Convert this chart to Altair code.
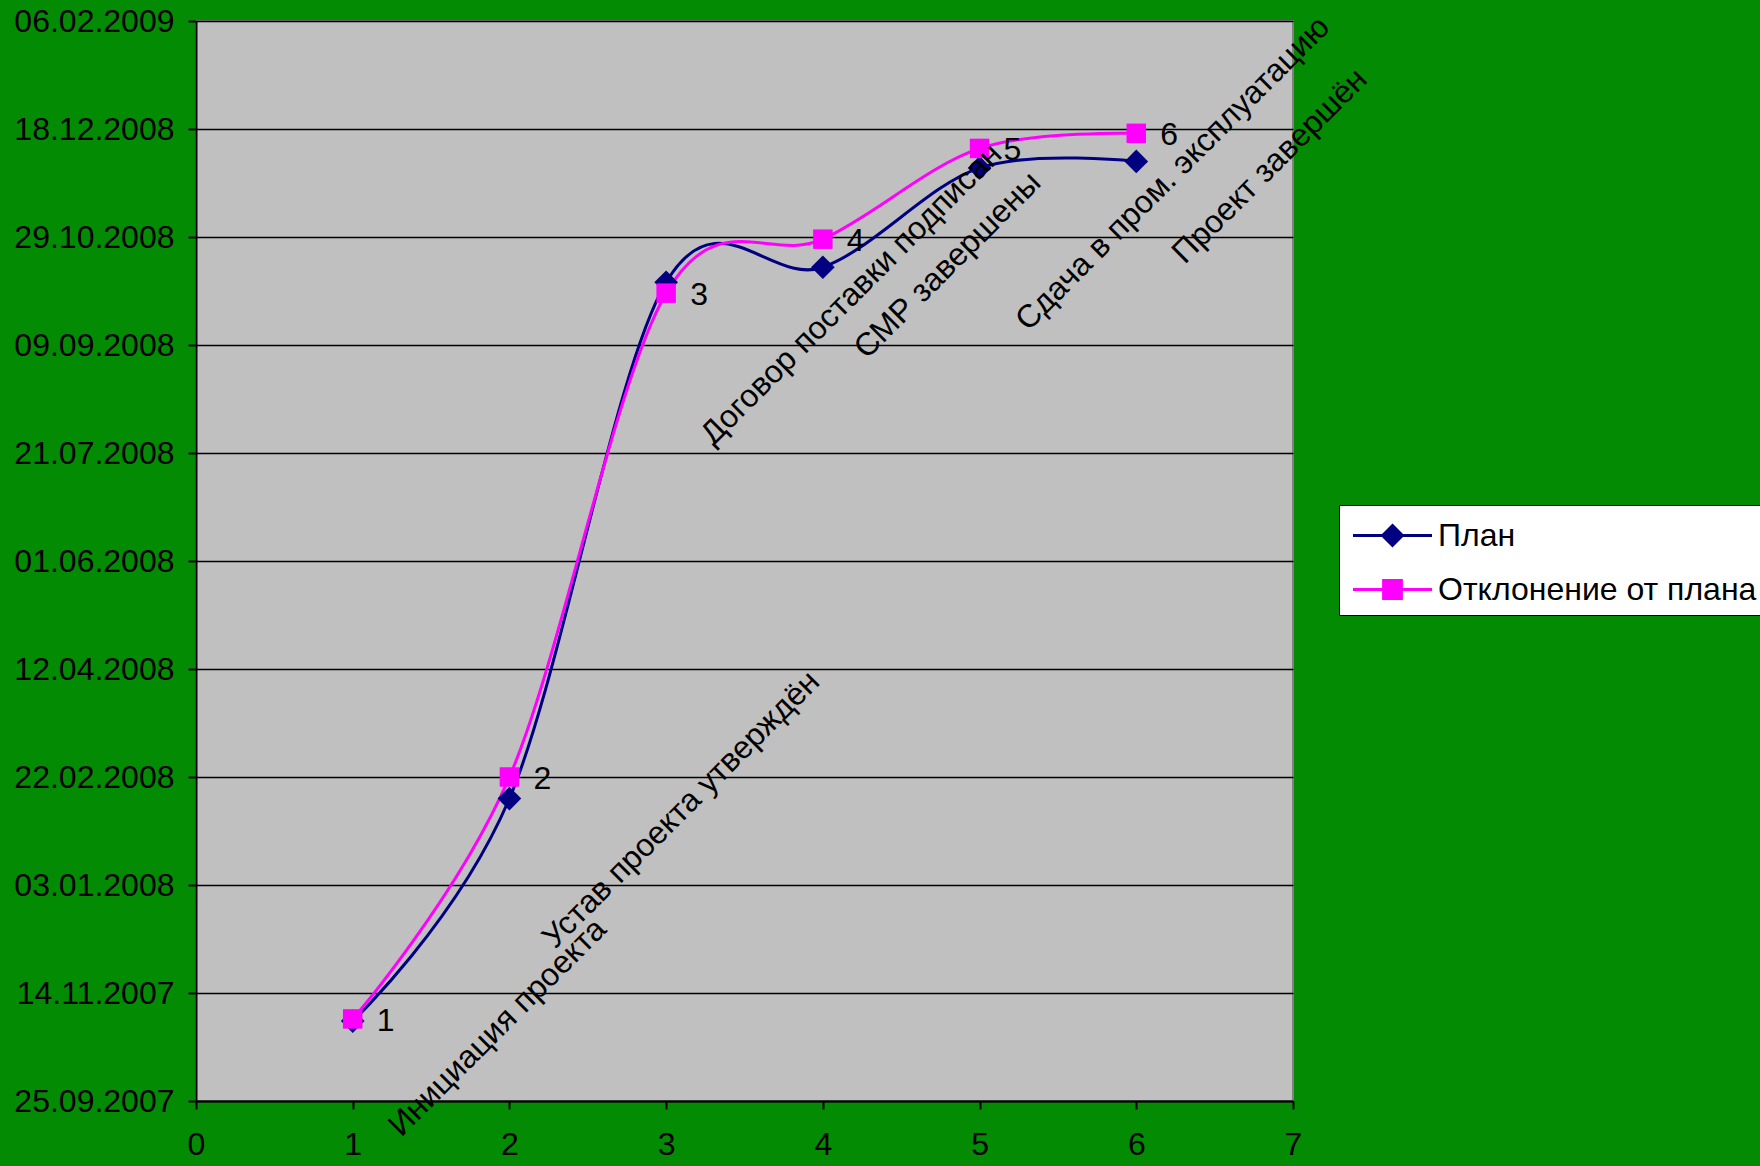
import altair as alt
import pandas as pd

# ---------------- data ----------------
series_names = ["План", "Отклонение от плана"]
series_colors = ["#000080", "#ff00ff"]
milestones = [1, 2, 3, 4, 5, 6]
plan_dates = ["01.11.2007", "12.02.2008", "08.10.2008", "15.10.2008", "30.11.2008", "03.12.2008"]
actual_dates = ["02.11.2007", "22.02.2008", "03.10.2008", "28.10.2008", "09.12.2008", "16.12.2008"]
point_labels = ["1", "2", "3", "4", "5", "6"]

milestone_names = [
    "Инициация проекта",
    "Устав проекта утверждён",
    "Договор поставки подписан",
    "СМР завершены",
    "Сдача в пром. эксплуатацию",
    "Проект завершён",
]
# anchor of each rotated milestone caption (x in category units, y as date)
caption_x = [1.31, 2.29, 3.30, 4.28, 5.31, 6.31]
caption_dates = ["08.09.2007", "04.12.2007", "24.07.2008", "02.09.2008", "15.09.2008", "16.10.2008"]

y_tick_dates = ["25.09.2007", "14.11.2007", "03.01.2008", "22.02.2008", "12.04.2008", "01.06.2008",
                "21.07.2008", "09.09.2008", "29.10.2008", "18.12.2008", "06.02.2009"]
x_ticks = [0, 1, 2, 3, 4, 5, 6, 7]


def serial(s):
    # Excel-style day serial
    return int((pd.to_datetime(s, format="%d.%m.%Y") - pd.Timestamp("1899-12-30")).days)


y_ticks = [serial(d) for d in y_tick_dates]

rows = []
for name, dates in zip(series_names, [plan_dates, actual_dates]):
    for m, d, lab in zip(milestones, dates, point_labels):
        rows.append({"series": name, "x": m, "y": serial(d), "lab": lab})
df = pd.DataFrame(rows)

cap_df = pd.DataFrame({
    "text": milestone_names,
    "x": caption_x,
    "y": [serial(d) for d in caption_dates],
})

FONT = "Liberation Sans"

xscale = alt.Scale(domain=[0, 7], nice=False, zero=False)
yscale = alt.Scale(domain=[y_ticks[0], y_ticks[-1]], nice=False, zero=False)

x_enc = alt.X("x:Q", scale=xscale, axis=alt.Axis(
    values=x_ticks, title=None, grid=False, labelFontSize=32, labelFont=FONT,
    labelColor="black", tickColor="black", tickSize=8, tickWidth=2, labelFlush=False,
    domainColor="black", domainWidth=2, labelPadding=20, format="d"))
y_enc = alt.Y("y:Q", scale=yscale, axis=alt.Axis(
    values=y_ticks, title=None, grid=True, gridColor="black", gridWidth=1.6,
    labelFontSize=32, labelFont=FONT, labelColor="black", tickColor="black",
    tickSize=8, tickWidth=2, domainColor="black", domainWidth=2, labelPadding=14,
    labelFlush=False,
    labelExpr="utcFormat((datum.value - 25569) * 86400000, '%d.%m.%Y')"))

# legend: a line with the series marker on it
legend_paths = [
    "M-2,0L2,0M0,-0.5L0.5,0L0,0.5L-0.5,0Z",
    "M-2,0L2,0M-0.45,-0.45L0.45,-0.45L0.45,0.45L-0.45,0.45Z",
]
leg = alt.Legend(
    title=None, orient="none", legendX=1143, legendY=484,
    fillColor="white", strokeColor="black", padding=9,
    labelFont=FONT, labelFontSize=32, labelColor="black", labelLimit=1000,
    symbolSize=1560, symbolStrokeWidth=3, symbolOffset=23, labelOffset=24,
    symbolOpacity=1, rowPadding=16,
)

lines = alt.Chart(df).mark_line(interpolate="cardinal", strokeWidth=3).encode(
    x=x_enc, y=y_enc,
    color=alt.Color("series:N", scale=alt.Scale(domain=series_names, range=series_colors), legend=leg),
    detail="series:N",
)

plan_pts = alt.Chart(df).transform_filter(alt.datum.series == series_names[0]).mark_point(
    shape="diamond", filled=True, size=560, color=series_colors[0], opacity=1
).encode(x="x:Q", y="y:Q")

act_pts = alt.Chart(df).transform_filter(alt.datum.series == series_names[1]).mark_point(
    shape="square", filled=True, size=380, color=series_colors[1], opacity=1
).encode(x="x:Q", y="y:Q")

num_labels = alt.Chart(df).transform_filter(alt.datum.series == series_names[1]).mark_text(
    align="left", baseline="middle", dx=24, dy=2, fontSize=32, font=FONT, color="black"
).encode(x="x:Q", y="y:Q", text="lab:N")

captions = alt.Chart(cap_df).mark_text(
    align="left", baseline="alphabetic", angle=315, fontSize=32, font=FONT, color="black"
).encode(x="x:Q", y="y:Q", text="text:N")

# zero-size points: they only supply fill / stroke / marker shape for the legend symbols
legend_layer = alt.Chart(df).mark_point(
    filled=True, strokeWidth=3, size=0, opacity=1
).encode(
    x="x:Q", y="y:Q",
    fill=alt.Fill("series:N", scale=alt.Scale(domain=series_names, range=series_colors), legend=leg),
    stroke=alt.Stroke("series:N", scale=alt.Scale(domain=series_names, range=series_colors), legend=leg),
    shape=alt.Shape("series:N", scale=alt.Scale(domain=series_names, range=legend_paths), legend=leg),
)

chart = alt.layer(lines, plan_pts, act_pts, num_labels, captions, legend_layer).properties(
    width=1097, height=1080,
    autosize=alt.AutoSizeParams(type="none"),
    padding={"left": 196, "top": 21, "right": 467, "bottom": 65},
    background="#048b04",
    view=alt.ViewBackground(fill="#c0c0c0", stroke="#808080", strokeWidth=2),
).configure_view(
    fill="#c0c0c0", stroke="#808080", strokeWidth=2
)

chart.save("out.html", embed_options={"renderer": "svg", "actions": False})
